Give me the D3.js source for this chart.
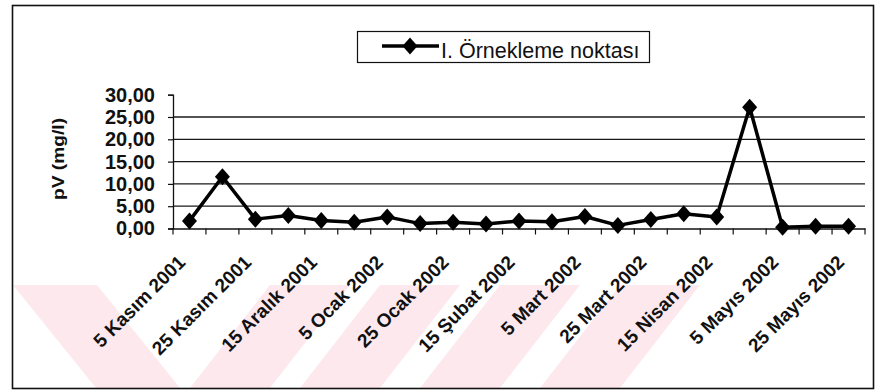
<!DOCTYPE html>
<html>
<head>
<meta charset="utf-8">
<script src="https://cdn.jsdelivr.net/npm/d3@7"></script>
<style>
  html, body { margin: 0; padding: 0; background: #fff; }
  svg { display: block; }
  text { font-family: "Liberation Sans", Arial, sans-serif; fill: #111; }
</style>
</head>
<body>
<svg id="chart" width="876" height="391"></svg>
<script>
// Sampling dates (every 10 days) and pV readings at sampling point I
const categories = [
  "5 Kasım 2001", "15 Kasım 2001", "25 Kasım 2001", "5 Aralık 2001",
  "15 Aralık 2001", "25 Aralık 2001", "5 Ocak 2002", "15 Ocak 2002",
  "25 Ocak 2002", "5 Şubat 2002", "15 Şubat 2002", "25 Şubat 2002",
  "5 Mart 2002", "15 Mart 2002", "25 Mart 2002", "5 Nisan 2002",
  "15 Nisan 2002", "25 Nisan 2002", "5 Mayıs 2002", "15 Mayıs 2002",
  "25 Mayıs 2002"
];
const pvValues = [
  1.7, 11.6, 2.1, 2.9, 1.8, 1.4, 2.6, 1.1, 1.4, 1.0, 1.7,
  1.5, 2.7, 0.7, 2.0, 3.3, 2.6, 27.2, 0.3, 0.5, 0.5
];
const yTickValues = [0, 5, 10, 15, 20, 25, 30];
const gridValues = [5, 10, 15, 20, 25];
const seriesName = "I. Örnekleme noktası";
const yTitle = "pV (mg/l)";

const svg = d3.select("#chart");
const W = 876, H = 391;
const plot = { left: 173, right: 865, top: 94.7, bottom: 228.5 };

svg.append("rect").attr("width", W).attr("height", H).attr("fill", "#fff");

// faint diagonal background bands along the lower edge
const bands = svg.append("g").attr("fill", "#fde9ed");
const bandShapes = [
  [[13, 285], [97, 285], [180, 388], [96, 388]],
  [[190, 388], [270, 285], [350, 285], [270, 388]],
  [[300, 388], [380, 285], [460, 285], [380, 388]],
  [[420, 388], [500, 285], [580, 285], [500, 388]],
  [[540, 388], [620, 285], [700, 285], [620, 388]]
];
bands.selectAll("polygon").data(bandShapes).join("polygon")
  .attr("points", d => d.map(p => p.join(",")).join(" "));

// outer frame
svg.append("rect")
  .attr("x", 12.5).attr("y", 5.5).attr("width", 861).attr("height", 383)
  .attr("fill", "none").attr("stroke", "#111").attr("stroke-width", 1.6);

const x = d3.scaleBand().domain(categories).range([plot.left, plot.right]).padding(0);
const y = d3.scaleLinear().domain([0, 30]).range([plot.bottom, plot.top]);
const cx = d => x(d) + x.bandwidth() / 2;

// horizontal gridlines
svg.append("g").selectAll("line").data(gridValues).join("line")
  .attr("x1", plot.left).attr("x2", plot.right)
  .attr("y1", d => y(d)).attr("y2", d => y(d))
  .attr("stroke", "#1a1a1a").attr("stroke-width", 1.3);

// y axis
const fmt = d => d3.format(".2f")(d).replace(".", ",");
const yAxis = svg.append("g")
  .attr("transform", `translate(${plot.left},0)`)
  .call(d3.axisLeft(y).tickValues(yTickValues).tickSize(5).tickPadding(13).tickFormat(fmt));
yAxis.select(".domain").attr("stroke", "#111").attr("stroke-width", 1.3);
yAxis.selectAll(".tick line").attr("stroke", "#111").attr("stroke-width", 1.2);
yAxis.selectAll(".tick text")
  .attr("font-size", 20).attr("font-weight", "bold")
  .attr("fill", "#111");

// x axis: line, ticks between categories, labels on every other date
const xAxis = svg.append("g")
  .attr("transform", `translate(0,${plot.bottom})`)
  .call(d3.axisBottom(x).tickValues(categories.filter((d, i) => i % 2 === 0)).tickSize(0).tickSizeOuter(0));
xAxis.select(".domain").attr("stroke", "#111").attr("stroke-width", 1.3);
xAxis.selectAll(".tick text")
  .attr("font-size", 19).attr("font-weight", "bold").attr("fill", "#111")
  .attr("text-anchor", "end").attr("dy", null).attr("y", null)
  .attr("transform", "translate(-3,35) rotate(-45)");

const boundaries = d3.range(categories.length + 1).map(i => plot.left + i * x.step());
svg.append("g").selectAll("line").data(boundaries).join("line")
  .attr("x1", d => d).attr("x2", d => d)
  .attr("y1", plot.bottom).attr("y2", plot.bottom + 6)
  .attr("stroke", "#111").attr("stroke-width", 1.2);

// y axis title
svg.append("text")
  .attr("transform", "translate(59,159) rotate(-90) scale(1.2,1)")
  .attr("text-anchor", "middle").attr("dominant-baseline", "central")
  .attr("font-size", 16).attr("font-weight", "bold")
  .text(yTitle);

// series line and diamond markers
const diamond = (px, py, hw, hh) =>
  `M${px},${py - hh}L${px + hw},${py}L${px},${py + hh}L${px - hw},${py}Z`;

svg.append("path")
  .datum(categories.map((c, i) => [cx(c), y(pvValues[i])]))
  .attr("d", d3.line())
  .attr("fill", "none").attr("stroke", "#000").attr("stroke-width", 3.5)
  .attr("stroke-linejoin", "round");

svg.append("g").selectAll("path").data(categories).join("path")
  .attr("d", (c, i) => diamond(cx(c), y(pvValues[i]), 7.5, 8.5))
  .attr("fill", "#000");

// legend
const lg = svg.append("g");
lg.append("rect").attr("x", 357.5).attr("y", 31.5).attr("width", 292).attr("height", 31)
  .attr("fill", "#fff").attr("stroke", "#111").attr("stroke-width", 1.2);
lg.append("line").attr("x1", 382).attr("x2", 439).attr("y1", 46).attr("y2", 46)
  .attr("stroke", "#000").attr("stroke-width", 3.5);
lg.append("path").attr("d", diamond(410, 46, 7.5, 8.5)).attr("fill", "#000");
lg.append("text").attr("x", 441).attr("y", 57.5)
  .attr("font-size", 21.5).text(seriesName);
</script>
</body>
</html>
